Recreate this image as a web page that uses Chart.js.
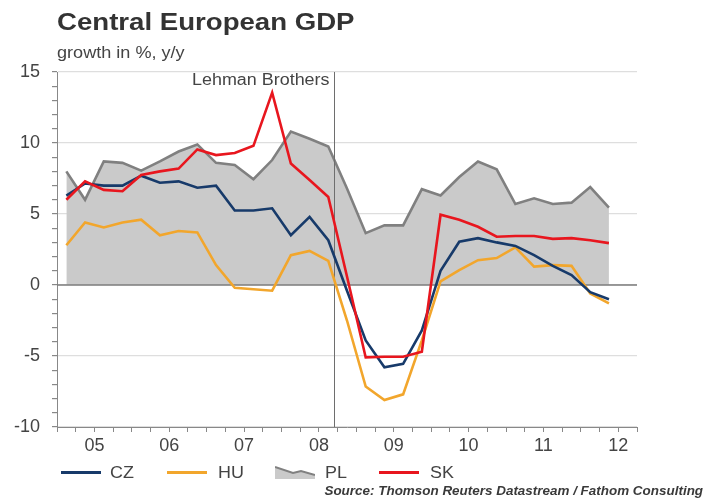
<!DOCTYPE html>
<html>
<head>
<meta charset="utf-8">
<script src="https://cdn.jsdelivr.net/npm/chart.js@4/dist/chart.umd.min.js"></script>
<style>
  html, body { margin: 0; padding: 0; background: #fff; }
  #wrap { position: relative; width: 704px; height: 500px; overflow: hidden;
          font-family: 'Liberation Sans', Arial, Helvetica, sans-serif; }
  #chart { position: absolute; left: 0; top: 0; }
  .txt { position: absolute; white-space: nowrap; transform-origin: left top; }
  #title { left: 57px; top: 10px; font-size: 24px; line-height: 24px; font-weight: bold;
           color: #333; transform: scaleX(1.15); }
  #subtitle { left: 57px; top: 45px; font-size: 16px; line-height: 16px; color: #444;
              transform: scaleX(1.13); }
  .lg { top: 465px; font-size: 16px; line-height: 16px; color: #444; transform: scaleX(1.12); }
  .sw { position: absolute; top: 471px; width: 40px; height: 3px; }
  #source { right: 1px; top: 485px; font-size: 12px; line-height: 12px; font-style: italic;
            font-weight: bold; color: #3a3a3a; transform-origin: right top; transform: scaleX(1.12); }
</style>
</head>
<body>
<div id="wrap">
  <canvas id="chart" width="704" height="500"></canvas>
  <div id="title" class="txt">Central European GDP</div>
  <div id="subtitle" class="txt">growth in %, y/y</div>

  <div class="sw" style="left:61px;background:#173A6A"></div>
  <div class="txt lg" style="left:110px">CZ</div>
  <div class="sw" style="left:167px;background:#F2A62C"></div>
  <div class="txt lg" style="left:218px">HU</div>
  <svg style="position:absolute;left:275px;top:465px" width="40" height="14" viewBox="0 0 40 14">
    <polygon points="0,2 18,8 26,6 40,10 40,14 0,14" fill="#cacaca"/>
    <polyline points="0,2 18,8 26,6 40,10" fill="none" stroke="#808080" stroke-width="2"/>
  </svg>
  <div class="txt lg" style="left:325px">PL</div>
  <div class="sw" style="left:379px;background:#E8161E"></div>
  <div class="txt lg" style="left:430px">SK</div>

  <div id="source" class="txt">Source: Thomson Reuters Datastream / Fathom Consulting</div>
</div>

<script>
// Quarterly real GDP growth, % y/y, 2005Q1 - 2012Q2
const quarters = [
  '2005Q1','2005Q2','2005Q3','2005Q4','2006Q1','2006Q2','2006Q3','2006Q4',
  '2007Q1','2007Q2','2007Q3','2007Q4','2008Q1','2008Q2','2008Q3','2008Q4',
  '2009Q1','2009Q2','2009Q3','2009Q4','2010Q1','2010Q2','2010Q3','2010Q4',
  '2011Q1','2011Q2','2011Q3','2011Q4','2012Q1','2012Q2'
];
const yearLabels = ['05','06','07','08','09','10','11','12'];

const cz = [6.3, 7.15, 7.0, 7.0, 7.7, 7.2, 7.3, 6.85, 7.0, 5.25, 5.25, 5.4, 3.5, 4.8, 3.15,
            -0.4, -3.9, -5.8, -5.55, -3.2, 1.0, 3.05, 3.3, 3.0, 2.75, 2.1, 1.35, 0.7, -0.5, -1.0];
const hu = [2.8, 4.4, 4.05, 4.4, 4.6, 3.5, 3.8, 3.7, 1.4, -0.2, -0.3, -0.4, 2.1, 2.4, 1.7,
            -2.5, -7.15, -8.1, -7.7, -3.9, 0.25, 1.05, 1.75, 1.9, 2.65, 1.3, 1.4, 1.35, -0.6, -1.3];
const pl = [8.0, 6.0, 8.7, 8.6, 8.05, 8.7, 9.4, 9.9, 8.6, 8.45, 7.45, 8.8, 10.8, 10.3, 9.75,
            6.8, 3.65, 4.2, 4.2, 6.75, 6.3, 7.6, 8.7, 8.15, 5.7, 6.1, 5.7, 5.8, 6.9, 5.45];
const sk = [6.0, 7.3, 6.7, 6.6, 7.75, 8.0, 8.2, 9.55, 9.15, 9.3, 9.8, 13.55, 8.55, 7.4, 6.2,
            0.6, -5.1, -5.05, -5.05, -4.7, 4.95, 4.6, 4.1, 3.4, 3.45, 3.45, 3.25, 3.3, 3.15, 2.95];

// Lehman Brothers collapse, mid-September 2008, in quarters from 2005Q1
const lehmanQuarter = 14.8;
const lehmanLabel = 'Lehman Brothers';

const FONT = "'Liberation Sans', Arial, Helvetica, sans-serif";

// each quarter is plotted at the middle of its slot on a quarterly axis
const toPoints = arr => arr.map((v, i) => ({ x: i + 0.5, y: v }));

const PL_INDEX = 2;

const markers = {
  id: 'markers',
  afterDatasetDraw(chart, args) {
    if (args.index !== PL_INDEX) return;
    const { ctx, chartArea: a, scales: { x, y } } = chart;
    ctx.save();
    // zero line on top of the shaded area
    const y0 = y.getPixelForValue(0);
    ctx.strokeStyle = '#7d7d7d';
    ctx.lineWidth = 1.5;
    ctx.beginPath();
    ctx.moveTo(a.left, y0);
    ctx.lineTo(a.right, y0);
    ctx.stroke();
    // Lehman marker
    const xl = Math.round(x.getPixelForValue(lehmanQuarter)) + 0.5;
    ctx.strokeStyle = '#6e6e6e';
    ctx.lineWidth = 1;
    ctx.beginPath();
    ctx.moveTo(xl, a.top);
    ctx.lineTo(xl, a.bottom);
    ctx.stroke();
    ctx.translate(xl - 5, a.top + 9);
    ctx.scale(1.12, 1);
    ctx.font = '16px ' + FONT;
    ctx.fillStyle = '#444';
    ctx.textAlign = 'right';
    ctx.textBaseline = 'middle';
    ctx.fillText(lehmanLabel, 0, 0);
    ctx.restore();
  }
};

new Chart(document.getElementById('chart'), {
  type: 'line',
  data: {
    labels: quarters,
    datasets: [
      { label: 'CZ', data: toPoints(cz), borderColor: '#173A6A', borderWidth: 2.6, order: 2 },
      { label: 'HU', data: toPoints(hu), borderColor: '#F2A62C', borderWidth: 2.6, order: 3 },
      { label: 'PL', data: toPoints(pl), borderColor: '#808080', borderWidth: 2.6, order: 4,
        fill: 'origin', backgroundColor: '#cacaca' },
      { label: 'SK', data: toPoints(sk), borderColor: '#E8161E', borderWidth: 2.6, order: 1 }
    ]
  },
  options: {
    responsive: false,
    animation: false,
    devicePixelRatio: 1,
    layout: { padding: { top: 72, right: 67, left: 0, bottom: 0 } },
    elements: { point: { radius: 0 }, line: { tension: 0, borderJoinStyle: 'miter' } },
    plugins: { legend: { display: false }, tooltip: { enabled: false } },
    scales: {
      x: {
        type: 'linear',
        min: 0,
        max: quarters.length + 1,
        afterBuildTicks: s => {
          s.ticks = Array.from({ length: quarters.length + 2 }, (_, i) => ({ value: i }));
        },
        afterFit: s => { s.height = 73; },
        ticks: {
          autoSkip: false,
          maxRotation: 0,
          padding: 3,
          color: '#444',
          font: { family: FONT, size: 18 },
          callback: v => (v % 4 === 2 && yearLabels[(v - 2) / 4]) ? yearLabels[(v - 2) / 4] : ''
        },
        grid: { drawOnChartArea: false, tickLength: 5, tickColor: '#888' },
        border: { color: '#888', width: 1 }
      },
      y: {
        min: -10,
        max: 15,
        afterBuildTicks: s => {
          s.ticks = Array.from({ length: 26 }, (_, i) => ({ value: -10 + i }));
        },
        afterFit: s => { s.width = 57; },
        ticks: {
          autoSkip: false,
          padding: 12,
          color: '#444',
          font: { family: FONT, size: 18 },
          callback: v => (v % 5 === 0 ? String(v) : '')
        },
        grid: {
          tickLength: 5,
          tickColor: '#888',
          color: c => (c.tick.value % 5 === 0 ? '#dedede' : 'rgba(0,0,0,0)'),
          lineWidth: 1.2
        },
        border: { color: '#888', width: 1 }
      }
    }
  },
  plugins: [markers]
});
</script>
</body>
</html>
